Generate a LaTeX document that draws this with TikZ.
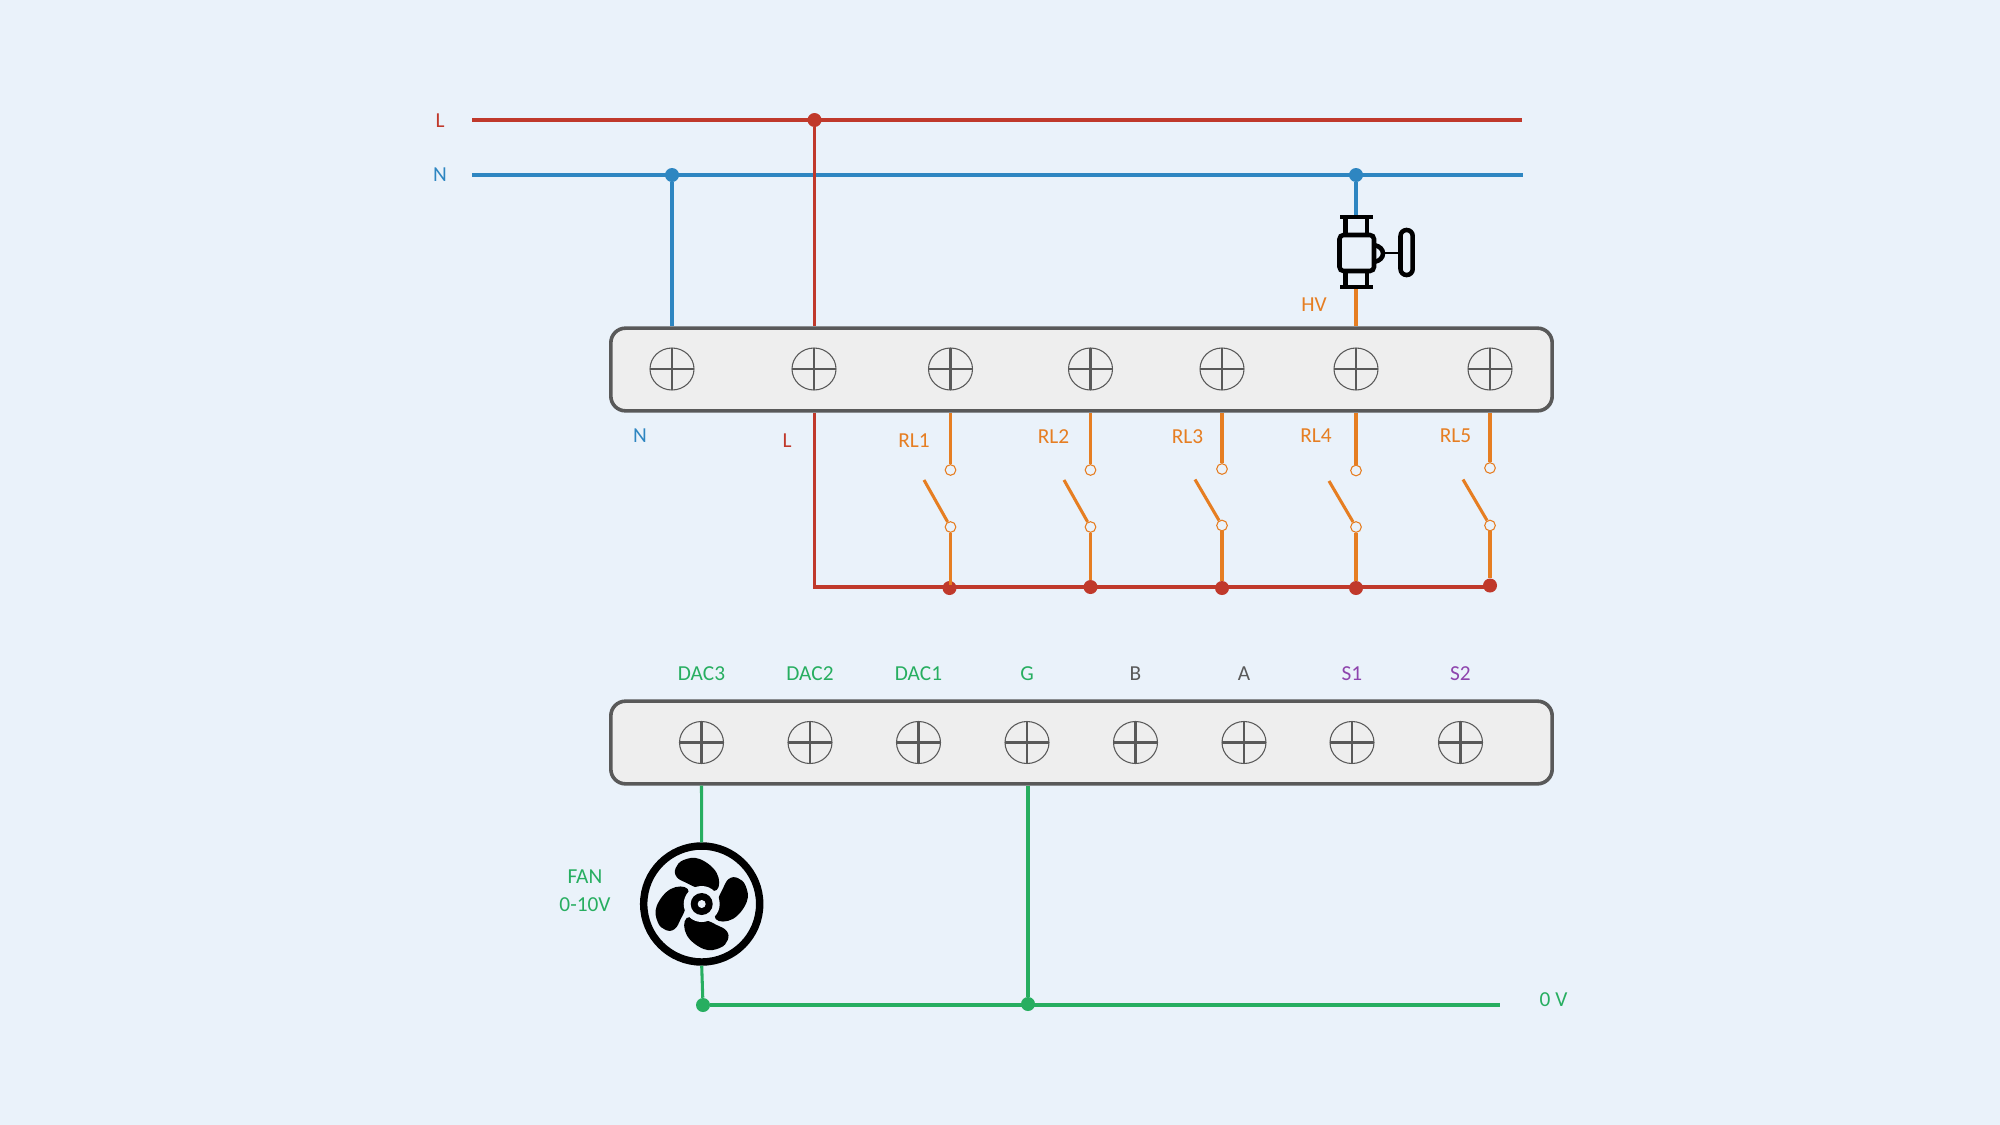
\documentclass[tikz,border=0pt]{standalone}
\usepackage{fontspec}
\setmainfont{Carlito}
\usetikzlibrary{shapes.geometric}
\definecolor{bgcol}{HTML}{EAF2FA}
\definecolor{redcol}{HTML}{C0392B}
\definecolor{bluecol}{HTML}{2E86C1}
\definecolor{orangecol}{HTML}{E67E22}
\definecolor{greencol}{HTML}{27AE60}
\definecolor{purplecol}{HTML}{8E44AD}
\definecolor{graycol}{HTML}{595959}
\definecolor{blockcol}{HTML}{EEEEEE}
\tikzset{
  wire/.style={line width=2.3pt},
  redwire/.style={wire,draw=redcol},
  bluewire/.style={wire,draw=bluecol},
  orangewire/.style={wire,draw=orangecol},
  greenwire/.style={wire,draw=greencol},
  thinwire/.style={line width=1.9pt},
  lbl/.style={inner sep=0pt,font=\fontsize{16}{21}\selectfont,align=center},
  block/.style={draw=graycol,fill=blockcol,line width=2.7pt,rounded corners=11pt,minimum width=706pt,minimum height=62pt,inner sep=0pt},
  screw/.style={ellipse,draw=graycol,line width=0.8pt,minimum width=33pt,minimum height=31.5pt,inner sep=0pt,
    path picture={\draw[graycol,line width=1.9pt] (path picture bounding box.north) -- (path picture bounding box.south) (path picture bounding box.west) -- (path picture bounding box.east);}},
  dot/.style={circle,inner sep=0pt,minimum size=10.5pt},
  contact/.style={circle,draw=orangecol,fill=bgcol,line width=0.8pt,inner sep=0pt,minimum size=8pt},
  valveline/.style={line width=3.4pt,draw=black},
  fancircle/.style={circle,draw=black,fill=bgcol,line width=5.6pt,inner sep=0pt,minimum size=87pt}
}
\newcommand{\fanblade}{\fill[black] plot[smooth cycle,tension=0.7] coordinates {(15,-14) (15,-31) (-2,-45) (-18,-44) (-26,-36) (-25,-27) (-15,-21) (-3,-16)};}
\begin{document}
\begin{tikzpicture}[x=0.75pt,y=0.75pt,yscale=-1,xscale=1]
\fill[bgcol] (0,0) rectangle (2000,1125);
\useasboundingbox (0,0) rectangle (2000,1125);

%Terminal blocks
\node[block] (blockT) at (1081.5,369.5) {};
\node[block] (blockB) at (1081.5,742.5) {};

%Screws of upper block
\node[screw] (tN) at (672,369) {};
\node[screw] (tL) at (814,369) {};
\node[screw] (tR1) at (950.5,369) {};
\node[screw] (tR2) at (1090.5,369) {};
\node[screw] (tR3) at (1222,369) {};
\node[screw] (tR4) at (1356,369) {};
\node[screw] (tR5) at (1490,369) {};

%Screws of lower block
\node[screw] (tD3) at (701.5,742.5) {};
\node[screw] (tD2) at (810,742.5) {};
\node[screw] (tD1) at (918.5,742.5) {};
\node[screw] (tG) at (1027,742.5) {};
\node[screw] (tB) at (1135.5,742.5) {};
\node[screw] (tA) at (1244,742.5) {};
\node[screw] (tS1) at (1352,742.5) {};
\node[screw] (tS2) at (1460.5,742.5) {};

%Free ends
\coordinate (lineLa) at (472,120);
\coordinate (lineLb) at (1522,120);
\coordinate (lineNa) at (472,175);
\coordinate (lineNb) at (1523,175);
\coordinate (valveT) at (1356,217);
\coordinate (valveB) at (1356,287);
\coordinate (busEnd) at (1490,587);
\coordinate (zeroEnd) at (1500,1005);
\coordinate (lev1) at (924,480);
\coordinate (lev2) at (1064,480);
\coordinate (lev3) at (1195,479.5);
\coordinate (lev4) at (1329,481);
\coordinate (lev5) at (1463,479.5);

%Junction dots
\node[dot,fill=redcol] (dotL) at (814.5,120) {};
\node[dot,fill=bluecol] (dotN1) at (672,175) {};
\node[dot,fill=bluecol] (dotN2) at (1356,175) {};
\node[dot,fill=redcol] (dotB1) at (949.5,588) {};
\node[dot,fill=redcol] (dotB2) at (1090.5,587) {};
\node[dot,fill=redcol] (dotB3) at (1222,588) {};
\node[dot,fill=redcol] (dotB4) at (1356,588) {};
\node[dot,fill=redcol] (dotB5) at (1490,585.5) {};
\node[dot,fill=greencol] (dotG1) at (703,1005) {};
\node[dot,fill=greencol] (dotG2) at (1028,1004) {};

%Relay contacts
\node[contact] (ca1) at (950.5,470) {};
\node[contact] (cb1) at (950.5,527) {};
\node[contact] (ca2) at (1090.5,470) {};
\node[contact] (cb2) at (1090.5,527) {};
\node[contact] (ca3) at (1222,469) {};
\node[contact] (cb3) at (1222,525.5) {};
\node[contact] (ca4) at (1356,470.5) {};
\node[contact] (cb4) at (1356,527) {};
\node[contact] (ca5) at (1490,468) {};
\node[contact] (cb5) at (1490,525.5) {};

%Mains lines
\draw[redwire] (lineLa) -- (lineLb);
\draw[bluewire] (lineNa) -- (lineNb);
\draw[bluewire] (dotN1) -- (dotN1 |- blockT.north);
\draw[redwire] (dotL) -- (dotL |- blockT.north);
\draw[bluewire] (dotN2) -- (valveT);
\draw[orangewire] (valveB) -- (valveB |- blockT.north);

%Relay wires
\draw[orangewire] (ca1) -- (ca1 |- blockT.south);
\draw[orangewire] (ca2) -- (ca2 |- blockT.south);
\draw[orangewire] (ca3) -- (ca3 |- blockT.south);
\draw[orangewire] (ca4) -- (ca4 |- blockT.south);
\draw[orangewire] (ca5) -- (ca5 |- blockT.south);
\draw[orangewire] (lev1) -- (cb1);
\draw[orangewire] (lev2) -- (cb2);
\draw[orangewire] (lev3) -- (cb3);
\draw[orangewire] (lev4) -- (cb4);
\draw[orangewire] (lev5) -- (cb5);
\draw[orangewire] (cb1) -- (cb1 |- dotB1);
\draw[orangewire] (cb2) -- (dotB2);
\draw[orangewire] (cb3) -- (dotB3);
\draw[orangewire] (cb4) -- (dotB4);
\draw[orangewire] (cb5) -- (dotB5);

%Common bus
\draw[redwire,line width=2.5pt] (dotL |- blockT.south) |- (busEnd);

%Fan
\node[fancircle] (fan) at (701.7,904) {};
\begin{scope}[shift={(701.7,904)}]
\fanblade
\begin{scope}[rotate=90]\fanblade\end{scope}
\begin{scope}[rotate=180]\fanblade\end{scope}
\begin{scope}[rotate=270]\fanblade\end{scope}
\fill[bgcol] (0,0) circle (18);
\fill[black] (0,0) circle (11);
\fill[bgcol] (0,0) circle (4);
\end{scope}
\draw[greenwire] (tD3 |- blockB.south) -- (fan.north);
\draw[greenwire] (fan.south) -- (dotG1);
\draw[greenwire] (dotG1) -- (zeroEnd);
\draw[greenwire] (dotG2 |- blockB.south) -- (dotG2);

%Valve
\draw[valveline] (1340,217) -- (1373,217);
\draw[valveline] (1340,287) -- (1373,287);
\draw[valveline] (1345.7,217) -- (1345.7,235);
\draw[valveline] (1367,217) -- (1367,235);
\draw[valveline] (1345.7,271) -- (1345.7,287);
\draw[valveline] (1367,271) -- (1367,287);
\draw[valveline,rounded corners=3pt] (1339.5,235) rectangle (1374,271);
\draw[valveline] (1374,245) .. controls (1386,247) and (1386,260) .. (1374,262);
\draw[thinwire,draw=black] (1383,253) -- (1400,253);
\draw[valveline,rounded corners=4.5pt] (1400.5,230) rectangle (1412.7,275);

% Text Node
\node[lbl,text=redcol] (lblL) at (440,121) {L};
\node[lbl,text=bluecol] (lblN) at (440,175) {N};
\node[lbl,text=orangecol] (lblHV) at (1314,305) {HV};
\node[lbl,text=bluecol] (lblN2) at (640,436) {N};
\node[lbl,text=redcol] (lblL2) at (787,441) {L};
\node[lbl,text=orangecol] (lblR1) at (914,441) {RL1};
\node[lbl,text=orangecol] (lblR2) at (1053.5,437) {RL2};
\node[lbl,text=orangecol] (lblR3) at (1187.5,437) {RL3};
\node[lbl,text=orangecol] (lblR4) at (1316,436) {RL4};
\node[lbl,text=orangecol] (lblR5) at (1455.5,436) {RL5};
\node[lbl,text=greencol] (lblD3) at (701.5,673.5) {DAC3};
\node[lbl,text=greencol] (lblD2) at (810,673.5) {DAC2};
\node[lbl,text=greencol] (lblD1) at (918.5,673.5) {DAC1};
\node[lbl,text=greencol] (lblG) at (1027,673.5) {G};
\node[lbl,text=graycol] (lblB) at (1135.5,673.5) {B};
\node[lbl,text=graycol] (lblA) at (1244,673.5) {A};
\node[lbl,text=purplecol] (lblS1) at (1352,673.5) {S1};
\node[lbl,text=purplecol] (lblS2) at (1460.5,673.5) {S2};
\node[lbl,text=greencol] (lblFan) at (585,891) {FAN\\0-10V};
\node[lbl,text=greencol] (lblZero) at (1553.5,1000) {0 V};

\end{tikzpicture}
\end{document}
